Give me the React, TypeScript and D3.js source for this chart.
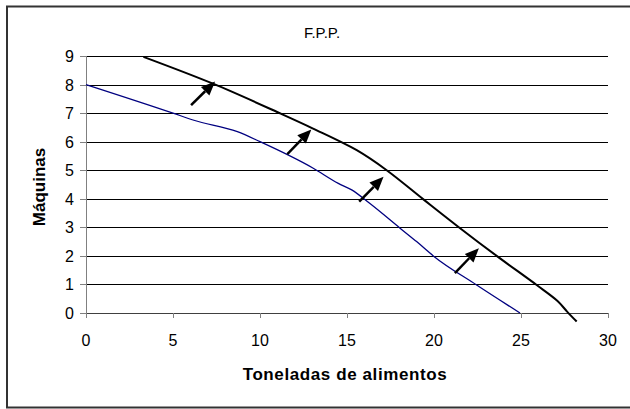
import { useMemo } from "react";
import * as d3 from "d3";

// FPP original (blue) and shifted (black)
const fppOriginal: [number, number][] = [
  [0, 8], [5, 7], [6.2, 6.75], [8.7, 6.35], [10, 6], [13.06, 5.07], [14.5, 4.54],
  [15.27, 4.31], [16.3, 3.84], [18.05, 2.97], [19, 2.5], [19.96, 2.0], [22.45, 0.98], [24.94, 0],
];
const fppShifted: [number, number][] = [
  [3.3, 8.97], [7.3, 8.03], [11.2, 6.98], [13.05, 6.46], [15.56, 5.7], [17.28, 5],
  [19.39, 3.98], [21.5, 2.97], [23.6, 2.0], [25.9, 0.98], [27.1, 0.42], [27.65, 0.05], [28.2, -0.3],
];
// arrows: [x0, y0, x1, y1] tail -> tip
const arrows: [number, number, number, number][] = [
  [6.04, 7.28, 7.42, 8.11],
  [11.57, 5.56, 12.95, 6.43],
  [15.7, 3.9, 17.1, 4.77],
  [21.2, 1.4, 22.58, 2.27],
];
const xTicks = [0, 5, 10, 15, 20, 25, 30];
const yTicks = [0, 1, 2, 3, 4, 5, 6, 7, 8, 9];

export default function App() {
  const W = 630, H = 409;
  const x = d3.scaleLinear().domain([0, 30]).range([86, 608]);
  const y = d3.scaleLinear().domain([0, 9]).range([313, 56]);
  const lineBlue = d3.line<[number, number]>().x(d => x(d[0])).y(d => y(d[1])).curve(d3.curveMonotoneX);
  const lineBlack = d3.line<[number, number]>().x(d => x(d[0])).y(d => y(d[1])).curve(d3.curveCatmullRom.alpha(0.5));
  const font = "'Liberation Sans', Arial, sans-serif";

  const heads = useMemo(() => arrows.map(a => {
    const x0 = x(a[0]), y0 = y(a[1]), x1 = x(a[2]), y1 = y(a[3]);
    const ang = Math.atan2(y1 - y0, x1 - x0);
    const L = 14, Wd = 6;
    const bx = x1 - L * Math.cos(ang), by = y1 - L * Math.sin(ang);
    const px = -Math.sin(ang) * Wd, py = Math.cos(ang) * Wd;
    return { x0, y0, bx, by, pts: `${x1},${y1} ${bx + px},${by + py} ${bx - px},${by - py}` };
  }), []);

  return (
    <svg width={W} height={H} style={{ position: "absolute", left: 0, top: 0 }} fontFamily={font}>
      <rect x={0} y={0} width={W} height={H} fill="#fff" />
      <rect x={7} y={6.5} width={640} height={401} fill="none" stroke="#333" strokeWidth={2} />
      <text x={322} y={38} textAnchor="middle" fontSize={15}>F.P.P.</text>
      {yTicks.filter(t => t > 0).map(t => (
        <line key={t} x1={86} x2={608} y1={Math.round(y(t)) + 0.5} y2={Math.round(y(t)) + 0.5} stroke="#000" strokeWidth={1} />
      ))}
      {/* y axis */}
      <line x1={86.5} x2={86.5} y1={56} y2={314} stroke="#808080" strokeWidth={1} />
      {yTicks.map(t => (
        <g key={t}>
          <line x1={80} x2={86} y1={Math.round(y(t)) + 0.5} y2={Math.round(y(t)) + 0.5} stroke="#808080" />
          <text x={74} y={y(t) + 6} textAnchor="end" fontSize={16}>{t}</text>
        </g>
      ))}
      {/* x axis */}
      <line x1={86} x2={608} y1={313.5} y2={313.5} stroke="#404040" strokeWidth={1} />
      {xTicks.map(t => (
        <g key={t}>
          <line x1={Math.round(x(t)) + 0.5} x2={Math.round(x(t)) + 0.5} y1={313} y2={318} stroke="#808080" />
          <text x={x(t)} y={346} textAnchor="middle" fontSize={16}>{t}</text>
        </g>
      ))}
      <path d={lineBlue(fppOriginal) || ""} fill="none" stroke="#000080" strokeWidth={1.3} />
      <path d={lineBlack(fppShifted) || ""} fill="none" stroke="#000" strokeWidth={2} />
      {heads.map((h, i) => (
        <g key={i}>
          <line x1={h.x0} y1={h.y0} x2={h.bx} y2={h.by} stroke="#000" strokeWidth={2.5} />
          <polygon points={h.pts} fill="#000" />
        </g>
      ))}
      <text x={345} y={380} textAnchor="middle" fontSize={17} fontWeight="bold" letterSpacing={0.6}>Toneladas de alimentos</text>
      <text transform="translate(45,187) rotate(-90)" textAnchor="middle" fontSize={17} fontWeight="bold">Máquinas</text>
    </svg>
  );
}
